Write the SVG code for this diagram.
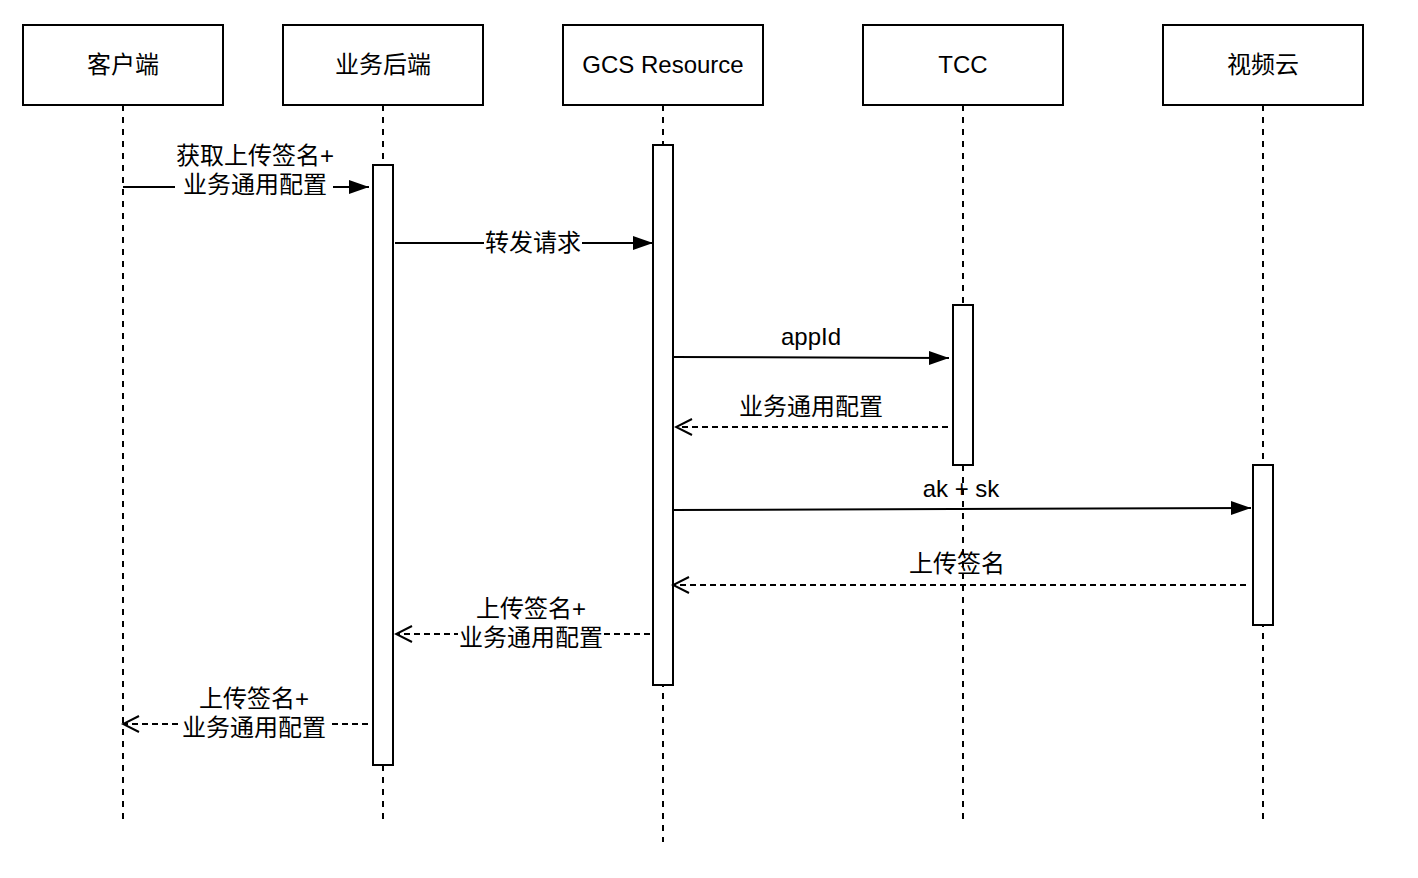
<svg xmlns="http://www.w3.org/2000/svg" width="1418" height="878" viewBox="0 0 1418 878">
<style>
.box{fill:#fff;stroke:#000;stroke-width:2}
.life{stroke:#000;stroke-width:2;stroke-dasharray:6 6;fill:none}
.bar{fill:#fff;stroke:#000;stroke-width:2}
.t{font-family:"Liberation Sans","Noto Sans CJK SC",sans-serif;font-size:24px;fill:#000;text-anchor:middle}
.msg{stroke:#000;stroke-width:2;fill:none}
.ret{stroke:#000;stroke-width:2;fill:none;stroke-dasharray:6 4}
.bg{fill:#fff}
</style>
<defs>
<marker id="fill" markerWidth="22" markerHeight="16" refX="20" refY="8" orient="auto" markerUnits="userSpaceOnUse">
<path d="M0,1 L20,8 L0,15 Z" fill="#000"/>
</marker>
<marker id="open" markerWidth="20" markerHeight="20" refX="18" refY="9" orient="auto" markerUnits="userSpaceOnUse">
<path d="M2,1 L18,9 L2,17" fill="none" stroke="#000" stroke-width="2"/>
</marker>
</defs>
<g id="lifelines">
<line class="life" x1="123" y1="105" x2="123" y2="820"/>
<line class="life" x1="383" y1="105" x2="383" y2="820"/>
<line class="life" x1="663" y1="105" x2="663" y2="842"/>
<line class="life" x1="963" y1="105" x2="963" y2="820"/>
<line class="life" x1="1263" y1="105" x2="1263" y2="820"/>
</g>
<g id="n-client"><rect class="box" x="23" y="25" width="200" height="80"/><text class="t" x="123" y="73">客户端</text></g>
<g id="n-backend"><rect class="box" x="283" y="25" width="200" height="80"/><text class="t" x="383" y="73">业务后端</text></g>
<g id="n-gcs"><rect class="box" x="563" y="25" width="200" height="80"/><text class="t" x="663" y="73">GCS Resource</text></g>
<g id="n-tcc"><rect class="box" x="863" y="25" width="200" height="80"/><text class="t" x="963" y="73">TCC</text></g>
<g id="n-video"><rect class="box" x="1163" y="25" width="200" height="80"/><text class="t" x="1263" y="73">视频云</text></g>
<g id="activations">
<rect class="bar" x="373" y="165" width="20" height="600"/>
<rect class="bar" x="653" y="145" width="20" height="540"/>
<rect class="bar" x="953" y="305" width="20" height="160"/>
<rect class="bar" x="1253" y="465" width="20" height="160"/>
</g>
<g id="connectors">
<line class="msg" x1="123" y1="187" x2="369" y2="187" marker-end="url(#fill)"/>
<rect class="bg" x="175" y="140" width="158" height="60"/>
<text class="t" x="255" y="164">获取上传签名+</text>
<text class="t" x="255" y="193">业务通用配置</text>

<line class="msg" x1="395" y1="243" x2="653" y2="243" marker-end="url(#fill)"/>
<rect class="bg" x="484" y="229" width="98" height="28"/>
<text class="t" x="533" y="251">转发请求</text>

<line class="msg" x1="673" y1="357" x2="949" y2="358" marker-end="url(#fill)"/>
<text class="t" x="811" y="345">appId</text>

<line class="ret" x1="948" y1="427" x2="676" y2="427" marker-end="url(#open)"/>
<text class="t" x="811" y="415">业务通用配置</text>

<line class="msg" x1="672" y1="510" x2="1251" y2="508" marker-end="url(#fill)"/>
<text class="t" x="961" y="497">ak + sk</text>

<line class="ret" x1="1246" y1="585" x2="673" y2="585" marker-end="url(#open)"/>
<text class="t" x="957" y="572">上传签名</text>

<line class="ret" x1="650" y1="634" x2="396" y2="634" marker-end="url(#open)"/>
<rect class="bg" x="458" y="596" width="146" height="56"/>
<text class="t" x="531" y="617">上传签名+</text>
<text class="t" x="531" y="646">业务通用配置</text>

<line class="ret" x1="368" y1="724" x2="123" y2="724" marker-end="url(#open)"/>
<rect class="bg" x="180" y="686" width="148" height="56"/>
<text class="t" x="254" y="707">上传签名+</text>
<text class="t" x="254" y="736">业务通用配置</text>
</g>
</svg>
